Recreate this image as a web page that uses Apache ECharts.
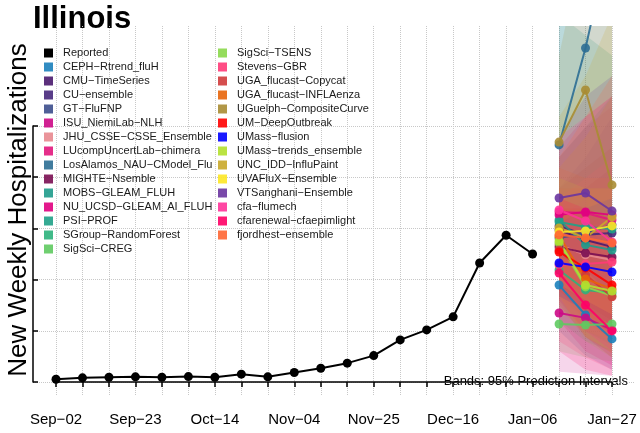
<!DOCTYPE html>
<html><head><meta charset="utf-8">
<script src="https://cdn.jsdelivr.net/npm/echarts@6/dist/echarts.min.js"></script>
<style>html,body{margin:0;padding:0;background:#fff}#c{width:640px;height:433px}</style>
</head><body><div id="c"></div>
<script>
const weeks = ["Sep−02","Sep−09","Sep−16","Sep−23","Sep−30","Oct−07","Oct−14","Oct−21","Oct−28","Nov−04","Nov−11","Nov−18","Nov−25","Dec−02","Dec−09","Dec−16","Dec−23","Dec−30","Jan−06","Jan−13","Jan−20","Jan−27"];
const reported = [13,20,23,25,23,26,23,38,25,46,67,92,129,206,255,319,583,719,627];
const forecastWeeks = ["Jan−13","Jan−20","Jan−27"];
const yTicks = [0,250,500,750,1000,1250];
const models = ["CEPH−Rtrend_fluH","CMU−TimeSeries","CU−ensemble","GT−FluFNP","ISU_NiemiLab−NLH","JHU_CSSE−CSSE_Ensemble","LUcompUncertLab−chimera","LosAlamos_NAU−CModel_Flu","MIGHTE−Nsemble","MOBS−GLEAM_FLUH","NU_UCSD−GLEAM_AI_FLUH","PSI−PROF","SGroup−RandomForest","SigSci−CREG","SigSci−TSENS","Stevens−GBR","UGA_flucast−Copycat","UGA_flucast−INFLAenza","UGuelph−CompositeCurve","UM−DeepOutbreak","UMass−flusion","UMass−trends_ensemble","UNC_IDD−InfluPaint","UVAFluX−Ensemble","VTSanghani−Ensemble","cfa−flumech","cfarenewal−cfaepimlight","fjordhest−ensemble"];
const modelColors = ["#1b80bb","#4a1a6e","#47287c","#3c4e8c","#cc0a86","#e8888f","#e2177d","#2c6e93","#7a0e52","#1f9b8b","#e0007f","#1fa187","#2cb37c","#5fca60","#8ad84a","#ff3a78","#d03b3b","#e8650a","#a98c33","#ff0000","#0000ff","#b2e02e","#c9a82a","#fde725","#6a35a0","#ff3399","#ff0066","#ff6633"];
const forecastMedian = [
 [475,328,211],[745,696,662],[765,721,730],[706,730,770],[338,314,255],[672,623,598],[833,828,794],
 [1162,1637,2216],[662,632,613],[794,672,647],[819,833,819],[784,760,750],[549,451,436],[284,279,284],
 [681,466,422],[574,578,588],[647,525,417],[716,505,456],[1176,1431,966],[637,559,475],[583,564,539],
 [691,475,446],[755,706,809],[735,740,765],[902,926,838],[843,789,686],[534,377,250],[721,706,681]];
const forecastLower = [
 [250,130,60],[560,420,330],[520,380,300],[500,440,400],[50,40,30],[420,300,220],[450,300,200],
 [600,700,800],[480,380,300],[400,250,180],[300,150,80],[450,350,280],[300,200,150],[150,120,100],
 [400,200,120],[200,120,60],[380,220,120],[420,220,140],[800,900,450],[450,330,230],[420,350,280],
 [420,220,150],[350,250,200],[480,400,330],[620,550,420],[400,250,150],[150,60,30],[450,350,280]];
const forecastUpper = [
 [800,750,700],[950,1050,1150],[1050,1200,1400],[950,1100,1300],[700,750,800],[950,1050,1150],[1100,1250,1350],
 [2000,3300,5000],[880,950,1050],[1800,1700,1600],[1150,1300,1400],[1100,1250,1400],[850,850,900],[450,480,520],
 [1000,950,950],[900,1000,1100],[950,950,950],[1050,1000,1000],[1600,2200,1800],[850,850,800],[780,850,900],
 [1000,950,950],[1300,1500,1800],[1050,1200,1400],[1200,1400,1500],[1200,1300,1400],[900,850,800],[1100,1300,1500]];

const FONT = '"Liberation Sans", Arial, Helvetica, sans-serif';
const chart = echarts.init(document.getElementById('c'), null, {renderer:'canvas'});
const firstFc = weeks.indexOf(forecastWeeks[0]);

const series = [];
series.push({
  type:'custom', name:'bands', xAxisIndex:0, yAxisIndex:0, clip:true, silent:true, z:1,
  data: models.map((m,i)=>[firstFc, i]),
  renderItem: function(params, api){
    const i = api.value(1);
    const pts = [];
    for (let k=0;k<forecastWeeks.length;k++) pts.push(api.coord([weeks.indexOf(forecastWeeks[k]), forecastUpper[i][k]]));
    for (let k=forecastWeeks.length-1;k>=0;k--) pts.push(api.coord([weeks.indexOf(forecastWeeks[k]), forecastLower[i][k]]));
    return {type:'polygon', shape:{points:pts}, style:{fill:modelColors[i], opacity:0.17}};
  }
});
series.push({
  type:'line', name:'Reported', xAxisIndex:0, yAxisIndex:0, z:3,
  data: reported, symbol:'circle', symbolSize:9, showSymbol:true,
  itemStyle:{color:'#000'}, lineStyle:{color:'#000', width:2}
});
models.forEach((m,i)=>{
  series.push({
    type:'line', name:m, xAxisIndex:0, yAxisIndex:0, z:3,
    data: forecastMedian[i].map((v,k)=>[forecastWeeks[k], v]),
    symbol:'circle', symbolSize:9, showSymbol:true,
    itemStyle:{color:modelColors[i], opacity:0.9}, lineStyle:{color:modelColors[i], width:2, opacity:0.9}
  });
});

const legendCommon = {
  orient:'vertical', icon:'rect', itemWidth:9, itemHeight:9, itemGap:0, padding:0,
  selectedMode:false, inactiveColor:'#ccc',
  textStyle:{fontFamily:FONT, fontSize:11, color:'#1a1a1a', lineHeight:14, padding:[0,0,0,5]}
};

chart.setOption({
  animation:false,
  backgroundColor:'#fff',
  grid:[
    {left:56, right:28, top:26, bottom:37},
    {left:33, right:5, top:126, bottom:51}
  ],
  xAxis:[
    {gridIndex:0, type:'category', data:weeks, boundaryGap:false,
     axisLine:{show:true, lineStyle:{color:'#000', width:1.5}},
     axisTick:{show:true, interval:0, length:5, lineStyle:{color:'#000', width:1.5}},
     axisLabel:{interval:2, fontFamily:FONT, fontSize:15, color:'#000', margin:16},
     splitLine:{show:true, interval:0, lineStyle:{type:'dotted', color:'#c8c8c8', width:1}}},
    {gridIndex:1, type:'value', show:false, min:0, max:1}
  ],
  yAxis:[
    {gridIndex:0, type:'value', min:-69, max:1745, show:false, splitLine:{show:false}},
    {gridIndex:1, type:'value', position:'right', min:yTicks[0], max:yTicks[yTicks.length-1], interval:250,
     axisLine:{show:true, lineStyle:{color:'#000', width:1.5}},
     axisTick:{show:true, inside:false, length:5, lineStyle:{color:'#000', width:1.5}},
     axisLabel:{show:false},
     splitLine:{show:true, lineStyle:{type:'dotted', color:'#c8c8c8', width:1}}}
  ],
  legend:[
    Object.assign({left:44, top:46, data:['Reported'].concat(models.slice(0,14))}, legendCommon),
    Object.assign({left:218, top:46, data:models.slice(14)}, legendCommon)
  ],
  graphic:[
    {type:'text', left:33, top:4, style:{text:'Illinois', font:'bold 31px '+FONT, fill:'#000'}},
    {type:'text', x:19, y:210, rotation:Math.PI/2, style:{text:'New Weekly Hospitalizations', font:'26px '+FONT, fill:'#000', align:'center', verticalAlign:'middle'}},
    {type:'text', x:628, y:381, style:{text:'Bands: 95% Prediction Intervals', font:'13px '+FONT, fill:'#000', align:'right', verticalAlign:'middle'}}
  ],
  series: series
});
</script></body></html>
